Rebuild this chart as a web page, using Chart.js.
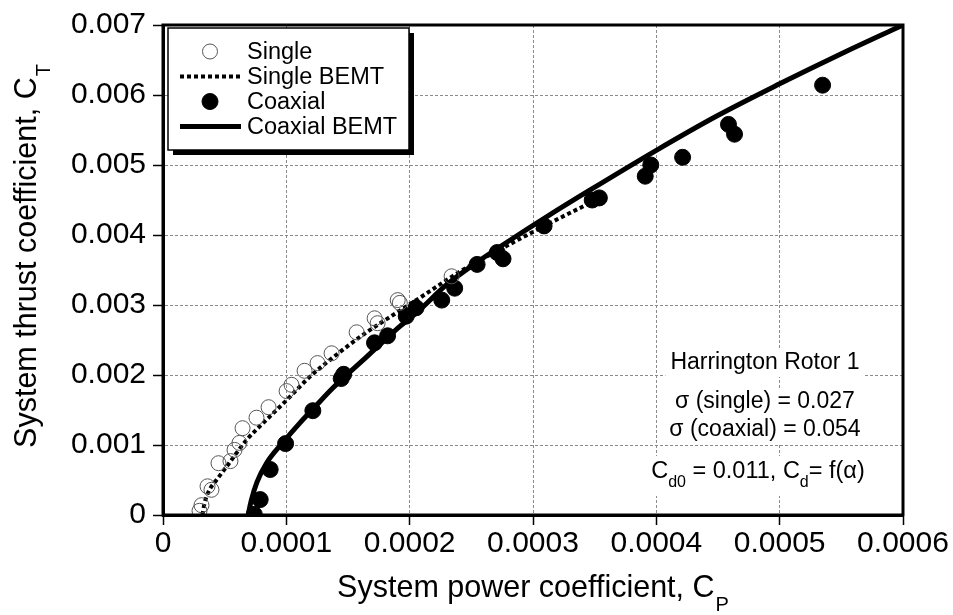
<!DOCTYPE html>
<html><head><meta charset="utf-8">
<script src="https://cdn.jsdelivr.net/npm/chart.js@4.4.0/dist/chart.umd.min.js"></script>
<style>html,body{margin:0;padding:0;background:#fff;}#wrap{width:953px;height:615px;}</style>
</head><body><div id="wrap"><canvas id="c" width="953" height="615"></canvas></div>
<script>
// ---- data ----
const singleCP = [0.0000296,0.0000312,0.0000361,0.0000393,0.0000450,0.0000547,0.0000580,0.0000620,0.0000645,0.0000758,0.0000856,0.0001002,0.0001042,0.0001148,0.0001253,0.0001367,0.0001570,0.0001716,0.0001740,0.0001903,0.0001920,0.0002340];
const singleCT = [0.00006,0.00014,0.00041,0.00036,0.00074,0.00077,0.00093,0.00103,0.00124,0.00139,0.00154,0.00177,0.00186,0.00206,0.00217,0.00231,0.00261,0.00281,0.00274,0.00307,0.00303,0.00341];

const singleBemtCP = [0.0000320,0.0000337,0.0000377,0.0000434,0.0000515,0.0000677,0.0000839,0.0001002,0.0001188,0.0001407,0.0001618,0.0001894,0.0002080,0.0002429,0.0002835,0.0003159,0.0003500];
const singleBemtCT = [0.00000,0.00017,0.00036,0.00050,0.00069,0.00107,0.00136,0.00164,0.00197,0.00229,0.00257,0.00289,0.00310,0.00350,0.00389,0.00419,0.00449];

const coaxCP = [0.0000740,0.0000788,0.0000869,0.0000994,0.0001215,0.0001445,0.0001465,0.0001715,0.0001821,0.0001972,0.0002052,0.0002260,0.0002365,0.0002547,0.0002710,0.0002757,0.0003090,0.0003480,0.0003538,0.0003910,0.0003955,0.0004213,0.0004585,0.0004634,0.0005348];
const coaxCT = [0.00001,0.00022,0.00065,0.00102,0.00149,0.00195,0.00201,0.00246,0.00256,0.00284,0.00296,0.00307,0.00324,0.00358,0.00375,0.00366,0.00413,0.00450,0.00453,0.00484,0.00500,0.00511,0.00558,0.00544,0.00614];

const coaxBemtCP = [0.0000690,0.0000716,0.0000762,0.0000839,0.0000969,0.0001107,0.0001245,0.0001375,0.0001513,0.0001651,0.0001780,0.0001918,0.0002056,0.0002300,0.0002570,0.0002835,0.0003110,0.0003460,0.0004000,0.0004490,0.0005000,0.0005500,0.0006000];
const coaxBemtCT = [0.00000,0.00021,0.00047,0.00074,0.00103,0.00131,0.00157,0.00181,0.00204,0.00226,0.00247,0.00269,0.00289,0.00329,0.00364,0.00395,0.00426,0.00464,0.00521,0.00570,0.00616,0.00659,0.00700];

const xTicks = [0,0.0001,0.0002,0.0003,0.0004,0.0005,0.0006];
const yTicks = [0,0.001,0.002,0.003,0.004,0.005,0.006,0.007];
const xTickLabels = ['0','0.0001','0.0002','0.0003','0.0004','0.0005','0.0006'];
const yTickLabels = ['0','0.001','0.002','0.003','0.004','0.005','0.006','0.007'];

const seriesLabels = ['Single','Single BEMT','Coaxial','Coaxial BEMT'];
const xTitle = ['System power coefficient, C','P'];
const yTitle = ['System thrust coefficient, C','T'];
const noteLines = ['Harrington Rotor 1','\u03C3 (single) = 0.027','\u03C3 (coaxial) = 0.054'];

const zip = (a,b)=>a.map((v,i)=>({x:v,y:b[i]}));
const FONT = '"Liberation Sans", Arial, Helvetica, sans-serif';

function drawSubText(ctx, parts, x, y, size, subSize, subDy, align){
  ctx.font = size+'px '+FONT;
  const w1 = ctx.measureText(parts[0]).width;
  ctx.font = subSize+'px '+FONT;
  const w2 = ctx.measureText(parts[1]).width;
  const tot = w1+w2+1;
  let x0 = align==='center' ? x - tot/2 : x;
  ctx.textAlign='left'; ctx.textBaseline='alphabetic';
  ctx.font = size+'px '+FONT;
  ctx.fillText(parts[0], x0, y);
  ctx.font = subSize+'px '+FONT;
  ctx.fillText(parts[1], x0+w1+1, y+subDy);
  return tot;
}

const decor = {
  id:'decor',
  afterDraw(chart){
    const ctx = chart.ctx, a = chart.chartArea;
    ctx.save();
    // frame
    ctx.strokeStyle='#000'; ctx.lineWidth=3;
    ctx.strokeRect(a.left, a.top, a.right-a.left, a.bottom-a.top);
    ctx.fillStyle='#000';
    // axis titles
    drawSubText(ctx, xTitle, (a.left+a.right)/2, 597, 30.5, 20, 14, 'center');
    ctx.save();
    ctx.translate(36, 256);
    ctx.rotate(-Math.PI/2);
    drawSubText(ctx, yTitle, 0, 0, 30.5, 20, 14, 'center');
    ctx.restore();

    // annotation block
    const cx = 765;
    const ys = [363, 402, 430];
    ctx.font = '23px '+FONT;
    ys.forEach((yy,i)=>{
      const w = ctx.measureText(noteLines[i]).width;
      ctx.fillStyle='#fff';
      ctx.fillRect(cx-w/2-5, yy-14, w+10, 28);
    });
    // Cd line
    const BF='23.5px '+FONT, SF='16px '+FONT;
    ctx.font=BF;
    const p1='C', p2='d0', p3=' = 0.011, C', p4='d', p5='= f(\u03B1)';
    const w1=ctx.measureText(p1).width, w3=ctx.measureText(p3).width, w5=ctx.measureText(p5).width;
    ctx.font=SF;
    const w2=ctx.measureText(p2).width, w4=ctx.measureText(p4).width;
    const tot=w1+w2+w3+w4+w5;
    let x0 = 758 - tot/2;
    ctx.fillStyle='#fff';
    ctx.fillRect(x0-5, 456, tot+10, 40);
    ctx.fillStyle='#000';
    ctx.textBaseline='middle'; ctx.textAlign='center';
    ctx.font='23px '+FONT;
    ys.forEach((yy,i)=>ctx.fillText(noteLines[i], cx, yy));
    ctx.textAlign='left'; ctx.textBaseline='alphabetic';
    const by = 478;
    ctx.font=BF; ctx.fillText(p1, x0, by); x0+=w1;
    ctx.font=SF; ctx.fillText(p2, x0, by+9); x0+=w2;
    ctx.font=BF; ctx.fillText(p3, x0, by); x0+=w3;
    ctx.font=SF; ctx.fillText(p4, x0, by+9); x0+=w4;
    ctx.font=BF; ctx.fillText(p5, x0, by);

    // legend
    const lx=168, ly=28, lw=241, lh=122;
    ctx.fillStyle='#000'; ctx.fillRect(lx+5, ly+5, lw, lh);
    ctx.fillStyle='#fff'; ctx.fillRect(lx, ly, lw, lh);
    ctx.strokeStyle='#000'; ctx.lineWidth=1.5; ctx.strokeRect(lx, ly, lw, lh);
    const ds = chart.data.datasets;
    ds.forEach((d,i)=>{
      const yy = 51.5 + i*25;
      ctx.save();
      if(d.showLine){
        ctx.strokeStyle=d.borderColor; ctx.lineWidth=d.borderWidth;
        ctx.setLineDash(d.borderDash||[]);
        ctx.beginPath(); ctx.moveTo(180,yy); ctx.lineTo(241,yy); ctx.stroke();
      } else {
        ctx.beginPath(); ctx.arc(210, yy, d.pointRadius, 0, Math.PI*2);
        ctx.fillStyle=d.pointBackgroundColor; ctx.fill();
        ctx.strokeStyle=d.pointBorderColor; ctx.lineWidth=d.pointBorderWidth; ctx.stroke();
      }
      ctx.restore();
      ctx.fillStyle='#000'; ctx.font='23.5px '+FONT; ctx.textBaseline='middle'; ctx.textAlign='left';
      ctx.fillText(d.label, 247, yy+1);
    });
    ctx.restore();
  }
};

const gridOpts = {color:'#8a8a8a', lineWidth:1, drawTicks:true, tickLength:10, tickColor:'#000', tickWidth:1.5, tickBorderDash:[]};

new Chart(document.getElementById('c'), {
  type:'scatter',
  data:{datasets:[
    {label:seriesLabels[0], data:zip(singleCP,singleCT), showLine:false, pointRadius:7.5, pointBackgroundColor:'rgba(255,255,255,0)', pointBorderColor:'#555', pointBorderWidth:1, pointHoverRadius:7.5, order:1},
    {label:seriesLabels[1], data:zip(singleBemtCP,singleBemtCT), showLine:true, pointRadius:0, borderColor:'#000', borderWidth:4, borderDash:[4,3], cubicInterpolationMode:'monotone', order:3},
    {label:seriesLabels[2], data:zip(coaxCP,coaxCT), showLine:false, pointRadius:8, pointBackgroundColor:'#000', pointBorderColor:'#000', pointBorderWidth:1, pointHoverRadius:8, order:2},
    {label:seriesLabels[3], data:zip(coaxBemtCP,coaxBemtCT), showLine:true, pointRadius:0, borderColor:'#000', borderWidth:5, cubicInterpolationMode:'monotone', order:4}
  ]},
  options:{
    responsive:false, animation:false, devicePixelRatio:1,
    layout:{padding:{top:24, right:50, left:0, bottom:0}},
    plugins:{legend:{display:false}, tooltip:{enabled:false}},
    scales:{
      x:{type:'linear', min:0, max:0.0006,
        afterBuildTicks:s=>{s.ticks = xTicks.map(v=>({value:v}));},
        afterFit:s=>{s.height=100;},
        ticks:{color:'#000', font:{family:FONT, size:30}, padding:1, maxRotation:0, autoSkip:false,
          callback:(v)=>{const i=xTicks.findIndex(t=>Math.abs(t-v)<1e-9); return i>=0?xTickLabels[i]:'';}},
        grid:gridOpts, border:{display:true, color:'#000', width:3, dash:[3,2]}},
      y:{type:'linear', min:0, max:0.007,
        afterBuildTicks:s=>{s.ticks = yTicks.map(v=>({value:v}));},
        afterFit:s=>{s.width=163;},
        ticks:{color:'#000', font:{family:FONT, size:30}, padding:7, autoSkip:false,
          callback:(v)=>{const i=yTicks.findIndex(t=>Math.abs(t-v)<1e-9); return i>=0?yTickLabels[i]:'';}},
        grid:gridOpts, border:{display:true, color:'#000', width:3, dash:[3,2]}}
    }
  },
  plugins:[decor]
});
</script></body></html>
